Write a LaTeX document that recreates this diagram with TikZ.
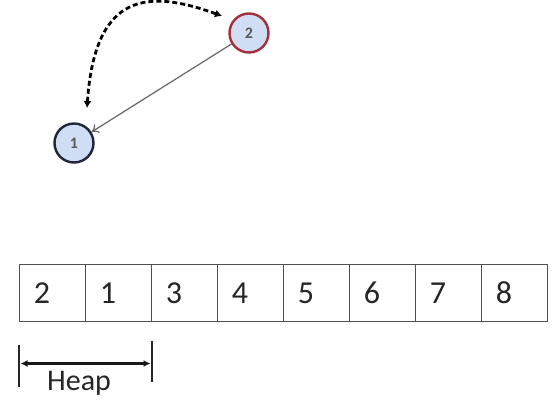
\documentclass[tikz,border=0pt]{standalone}
\usepackage{fontspec}
\setmainfont{Carlito}
\usetikzlibrary{arrows.meta,calc}
\definecolor{nodefill}{HTML}{CFDDF5}
\definecolor{redborder}{HTML}{A3303A}
\definecolor{navyborder}{HTML}{1E2638}
\definecolor{cellline}{HTML}{505050}
\tikzset{
  vtx/.style={circle, minimum size=39pt, inner sep=0pt, fill=nodefill, line width=2.4pt, font=\fontsize{16pt}{17pt}\selectfont\bfseries, text=black!65},
  cellbox/.style={draw=cellline, line width=1.4pt, minimum width=66pt, minimum height=57.5pt, inner sep=0pt},
  celltxt/.style={anchor=west, font=\fontsize{32pt}{34pt}\selectfont, text=black!85, inner sep=0pt},
  bar/.style={line width=2pt, draw=black!85},
}
\begin{document}
\begin{tikzpicture}[x=1pt,y=-1pt]
\useasboundingbox (0,0) rectangle (560,402);
% nodes
\node[vtx, draw=redborder] (n2) at (249,33) {2};
\node[vtx, draw=navyborder] (n1) at (74,143) {1};
\draw[draw=black!60, line width=1.2pt, -{To[length=7pt,width=10pt]}] (n2) -- (n1);
\coordinate (dA) at (222,16);
\coordinate (dB) at (87,108);
\draw[line width=2.8pt, dash pattern=on 5pt off 3pt, {Latex[length=7pt,width=8pt]}-{Latex[length=7pt,width=8pt]}]
  (dB) .. controls (95,-10) and (150,-10) .. (dA);
% array
\foreach \v [count=\i from 0] in {2,1,3,4,5,6,7,8} {
  \node[cellbox] (c\i) at ({19.3+33+66*\i},293) {};
  \node[celltxt] (t\i) at ($(c\i.west)+(15,0)$) {\v};
}
% heap bracket
\coordinate (l1) at (19.3,345);
\coordinate (l2) at (19.3,387);
\coordinate (r1) at (151.7,341);
\coordinate (r2) at (151.7,382);
\draw[bar] (l1) -- (l2);
\draw[bar] (r1) -- (r2);
\coordinate (a1) at (20.5,363.5);
\coordinate (a2) at (150.5,363.5);
\draw[line width=2.6pt, draw=black!90, {Latex[length=7pt,width=7pt]}-{Latex[length=7pt,width=7pt]}] (a1) -- (a2);
\node[anchor=base west, inner sep=0pt, font=\fontsize{30pt}{32pt}\selectfont, text=black!85] (heap) at (47,390) {Heap};
\end{tikzpicture}
\end{document}
